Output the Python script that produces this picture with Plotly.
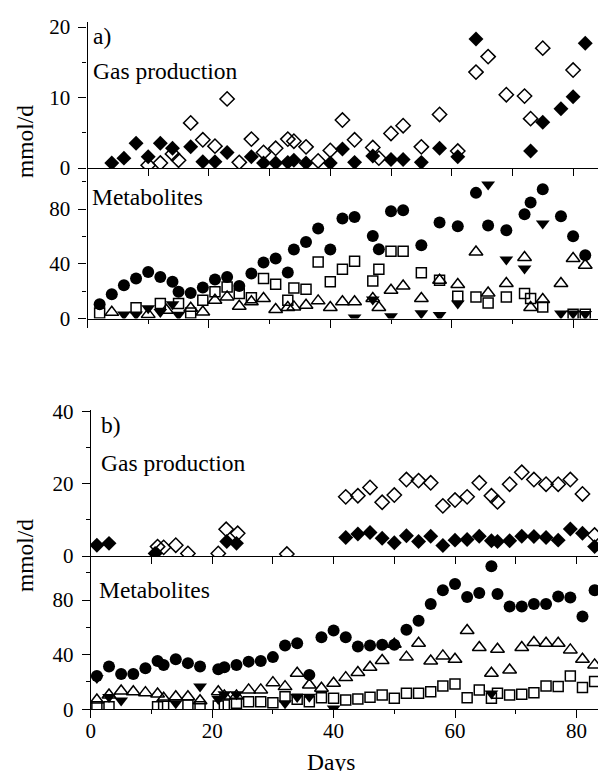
import plotly.graph_objects as go

# ---------------- Panel a) gas production ----------------
a_gas_filled_days = [4, 6, 8, 10, 12, 14, 17, 19, 21, 23, 27, 29, 31, 33, 34, 36, 40, 42, 44, 47, 50, 52, 55, 58, 61, 64, 73, 75, 78, 80, 82]
a_gas_filled = [0.7, 1.4, 3.5, 1.6, 3.5, 2.8, 3.0, 0.9, 0.9, 2.2, 1.6, 0.7, 0.7, 0.8, 1.1, 0.7, 0.7, 2.7, 0.8, 1.7, 1.2, 1.2, 0.8, 2.8, 1.6, 18.3, 2.4, 6.5, 8.4, 10.1, 17.7]
a_gas_open_days = [10, 12, 14, 15, 17, 19, 21, 23, 25, 27, 29, 31, 33, 34, 36, 38, 40, 42, 44, 47, 48, 50, 52, 55, 58, 61, 64, 66, 69, 72, 73, 75, 80]
a_gas_open = [0.4, 0.7, 2.0, 1.1, 6.4, 4.0, 3.1, 9.8, 0.8, 4.1, 2.2, 2.8, 4.1, 3.8, 3.0, 1.0, 2.5, 6.8, 4.0, 2.9, 1.4, 4.9, 6.0, 3.0, 7.6, 2.4, 13.6, 15.8, 10.4, 10.2, 7.0, 17.0, 13.9]

# ---------------- Panel a) metabolites ----------------
a_circ_days = [2, 4, 6, 8, 10, 12, 14, 15, 17, 19, 21, 23, 25, 27, 29, 31, 33, 34, 36, 38, 40, 42, 44, 47, 48, 50, 52, 55, 58, 61, 64, 66, 69, 72, 73, 75, 78, 80, 82]
a_circ = [10.5, 17.8, 24.4, 29.2, 34.1, 30.4, 26.8, 19.5, 18.7, 22.7, 28.5, 30.4, 23.8, 32.9, 41.0, 43.9, 33.6, 50.5, 56.0, 65.8, 50.5, 73.2, 74.3, 60.4, 50.7, 78.5, 79.2, 53.6, 70.2, 67.5, 91.9, 68.0, 64.6, 76.3, 84.9, 94.6, 74.8, 60.2, 46.3]
a_sq_days = [2, 8, 12, 15, 17, 19, 21, 23, 25, 27, 29, 31, 33, 34, 36, 38, 40, 42, 44, 47, 48, 50, 52, 55, 58, 61, 64, 66, 69, 72, 73, 75, 80, 82]
a_sq = [4.1, 7.8, 11.0, 11.0, 4.1, 13.4, 19.5, 23.1, 18.3, 15.1, 29.3, 25.1, 13.4, 22.4, 21.4, 41.4, 26.8, 36.1, 41.9, 27.5, 36.1, 49.2, 49.2, 33.4, 28.0, 16.3, 15.8, 11.4, 15.8, 18.3, 14.6, 8.5, 3.1, 3.1]
a_tri_days = [4, 10, 13, 17, 19, 21, 23, 25, 27, 29, 31, 33, 34, 36, 38, 40, 42, 44, 47, 48, 50, 52, 55, 58, 61, 64, 66, 69, 72, 73, 75, 78, 80, 82]
a_tri = [4.5, 3.0, 6.0, 7.5, 4.8, 13.4, 15.8, 9.0, 12.2, 14.6, 6.6, 8.0, 8.5, 9.7, 12.9, 8.0, 12.2, 12.2, 14.6, 8.0, 20.7, 23.8, 14.6, 28.0, 24.9, 48.7, 18.7, 25.6, 44.6, 8.0, 13.9, 25.6, 43.9, 39.0]
a_tdn_days = [6, 8, 10, 12, 14, 15, 44, 47, 50, 55, 58, 61, 66, 69, 72, 75, 78, 80, 82]
a_tdn = [3.0, 3.0, 7.5, 4.8, 10.5, 2.8, 0.8, 13.9, 1.7, 3.8, 2.5, 11.0, 98.0, 43.2, 36.6, 69.5, 3.7, 3.7, 3.3]

# ---------------- Panel b) gas production ----------------
b_gas_filled_days = [1, 3, 10.6, 22.4, 24, 42, 44, 46, 48, 50, 52, 54, 56, 58, 60, 62, 64, 66, 67, 69, 71, 73, 75, 77, 79, 81, 83]
b_gas_filled = [3.0, 3.5, 0.7, 4.0, 3.5, 5.1, 6.1, 6.5, 4.9, 3.7, 5.6, 4.0, 5.5, 2.9, 4.4, 4.6, 5.5, 4.2, 4.0, 4.2, 5.5, 5.4, 5.1, 4.4, 7.5, 6.3, 2.6]
b_gas_open_days = [11, 12, 14, 16, 21, 22.3, 24.2, 32.3, 42, 44, 46, 48, 50, 52, 54, 56, 58, 60, 62, 64, 66, 67, 69, 71, 73, 75, 77, 79, 81, 83]
b_gas_open = [2.6, 2.4, 3.0, 0.7, 0.7, 7.4, 6.3, 0.55, 16.4, 16.7, 19.0, 14.9, 16.9, 21.2, 20.9, 20.3, 13.9, 15.5, 16.4, 20.3, 16.7, 15.0, 19.9, 23.2, 21.2, 19.9, 19.9, 21.2, 17.2, 5.8]

# ---------------- Panel b) metabolites ----------------
b_days = [1, 3, 5, 7, 9, 11, 12, 14, 16, 18, 21, 22, 24, 26, 28, 30, 32, 34, 36, 38, 40, 42, 44, 46, 48, 50, 52, 54, 56, 58, 60, 62, 64, 66, 67, 69, 71, 73, 75, 77, 79, 81, 83]
b_circ = [24.4, 31.3, 25.9, 25.9, 30.1, 35.4, 32.5, 36.7, 33.8, 31.3, 29.4, 30.8, 32.5, 34.9, 35.4, 38.2, 46.7, 48.4, 25.2, 52.8, 57.7, 52.8, 45.9, 46.7, 47.2, 47.2, 58.2, 64.8, 77.1, 87.1, 91.7, 82.2, 85.1, 104.7, 84.4, 75.3, 75.3, 77.1, 77.1, 82.6, 81.9, 68.0, 87.1]
b_tri = [6.8, 10.5, 13.4, 12.9, 12.2, 11.2, 8.1, 9.2, 9.2, 6.3, 12.9, 9.8, 9.8, 14.2, 14.2, 19.5, 16.6, 26.4, 17.8, 15.4, 19.1, 23.2, 26.9, 30.8, 35.7, 47.7, 38.2, 48.4, 35.4, 39.1, 36.7, 57.7, 45.2, 26.4, 44.0, 28.8, 45.2, 48.9, 48.4, 48.4, 43.5, 36.7, 32.5]
b_sq_days = [1, 3, 11, 12, 16, 18, 21, 22, 24, 26, 28, 30, 32, 34, 36, 38, 40, 42, 44, 46, 48, 50, 52, 54, 56, 58, 60, 62, 64, 66, 67, 69, 71, 73, 75, 77, 79, 81, 83]
b_sq = [1.9, 1.9, 1.9, 3.2, 3.2, 1.9, 2.4, 3.2, 4.4, 5.6, 5.6, 4.8, 9.2, 7.3, 5.6, 8.5, 8.1, 6.8, 7.6, 8.8, 10.5, 8.1, 11.7, 11.7, 12.9, 17.1, 18.6, 8.5, 14.2, 8.1, 11.7, 10.5, 11.0, 12.2, 17.1, 16.6, 24.4, 15.9, 20.3]
b_tdn_days = [1, 3, 5, 14, 18, 21, 22, 24, 32, 34, 36, 40, 66]
b_tdn = [23.0, 9.0, 6.5, 4.4, 16.6, 7.5, 11.0, 11.0, 4.5, 9.0, 9.2, 0.5, 11.5]

W, H = 598, 771
FONT = "Liberation Serif, Times New Roman, DejaVu Serif, serif"


def px_x(p):
    return p / W


def px_y(p):
    return 1 - p / H


fig = go.Figure()


def add(x, y, ax, symbol, size, filled=True):
    n = "" if ax == 1 else str(ax)
    fig.add_trace(go.Scatter(
        x=x, y=y, mode="markers", xaxis="x" + n, yaxis="y" + n,
        showlegend=False,
        marker=dict(symbol=symbol, size=size, color="black",
                    line=dict(width=1.5 if not filled else 0, color="black")),
    ))


# panel a gas
add(a_gas_open_days, a_gas_open, 1, "diamond-open", 11, False)
add(a_gas_filled_days, a_gas_filled, 1, "diamond", 11.5)
# panel a metabolites
add(a_circ_days, a_circ, 2, "circle", 12)
add(a_sq_days, a_sq, 2, "square-open", 10, False)
add(a_tri_days, a_tri, 2, "triangle-up-open", 12, False)
add(a_tdn_days, a_tdn, 2, "triangle-down", 12)
# panel b gas
add(b_gas_open_days, b_gas_open, 3, "diamond-open", 11, False)
add(b_gas_filled_days, b_gas_filled, 3, "diamond", 11.5)
# panel b metabolites
add(b_days, b_circ, 4, "circle", 12)
add(b_sq_days, b_sq, 4, "square-open", 10, False)
add(b_days, b_tri, 4, "triangle-up-open", 12, False)
add(b_tdn_days, b_tdn, 4, "triangle-down", 12)

tickfont = dict(family=FONT, size=21, color="black")

a_x0, b_x0 = 87.5, 90.8
pxday = 6.07
a_xrange = [0, (W - a_x0) / pxday]
b_xrange = [0, (W - b_x0) / pxday]


def xaxis(x0, rng, anchor, labels, minor):
    d = dict(domain=[px_x(x0), 1], range=rng, anchor=anchor,
             showline=True, linecolor="black", linewidth=1.3,
             showgrid=False, zeroline=False, automargin=False,
             ticks="outside", tickcolor="black", tickwidth=1.3,
             tickfont=tickfont, showticklabels=labels)
    if minor:
        d.update(tickmode="array", tickvals=[0, 20, 40, 60, 80], ticklen=8,
                 minor=dict(tickmode="array", tickvals=[10, 30, 50, 70], ticklen=4,
                            ticks="outside", tickcolor="black", tickwidth=1.3))
    else:
        d.update(tickmode="array", tickvals=[0, 10, 20, 30, 40, 50, 60, 70, 80], ticklen=7)
    if labels:
        d.update(ticklabelstandoff=-6)
    return d


def yaxis(top_px, bot_px, rng, tickvals, minorvals, anchor):
    return dict(domain=[px_y(bot_px), px_y(top_px)], range=rng, anchor=anchor,
                showline=True, linecolor="black", linewidth=1.3,
                showgrid=False, zeroline=False, automargin=False,
                ticks="outside", ticklen=8, tickcolor="black", tickwidth=1.3,
                tickmode="array", tickvals=tickvals, tickfont=tickfont,
                ticklabelstandoff=4,
                minor=dict(tickmode="array", tickvals=minorvals, ticklen=4,
                           ticks="outside", tickcolor="black", tickwidth=1.3))


layout = dict(
    width=W, height=H, margin=dict(l=0, r=0, t=0, b=0),
    paper_bgcolor="white", plot_bgcolor="white",
    font=dict(family=FONT, color="black"),
    xaxis=xaxis(a_x0, a_xrange, "y", False, False),
    xaxis2=xaxis(a_x0, a_xrange, "y2", False, True),
    xaxis3=xaxis(b_x0, b_xrange, "y3", False, False),
    xaxis4=xaxis(b_x0, b_xrange, "y4", True, True),
    yaxis=yaxis(22, 168, [0, (168 - 22) / 7.05], [0, 10, 20], [5, 15], "x"),
    yaxis2=yaxis(168, 318.5, [0, (318.5 - 168) / 1.367], [0, 40, 80], [20, 60, 100], "x2"),
    yaxis3=yaxis(409.5, 556, [0, (556 - 409.5) / 3.6075], [0, 20, 40], [10, 30], "x3"),
    yaxis4=yaxis(556, 709.3, [0, (709.3 - 556) / 1.366], [0, 40, 80], [20, 60, 100], "x4"),
)
fig.update_layout(**layout)

annfont = dict(family=FONT, size=23.5, color="black")
texts = [
    ("a)", 91, 36), ("Gas production", 91, 71), ("Metabolites", 90, 197),
    ("b)", 99, 425), ("Gas production", 99, 463), ("Metabolites", 97, 590),
]
for t, x, y in texts:
    fig.add_annotation(text=t, xref="paper", yref="paper", x=px_x(x), y=px_y(y),
                       xanchor="left", yanchor="middle", showarrow=False, font=annfont)

for y in (142, 556):
    fig.add_annotation(text="mmol/d", xref="paper", yref="paper", x=px_x(25), y=px_y(y),
                       xanchor="center", yanchor="middle", textangle=-90, showarrow=False,
                       font=annfont)

fig.add_annotation(text="Days", xref="paper", yref="paper", x=px_x(331), y=px_y(762),
                   xanchor="center", yanchor="middle", showarrow=False, font=annfont)

fig.write_html("out.html")
